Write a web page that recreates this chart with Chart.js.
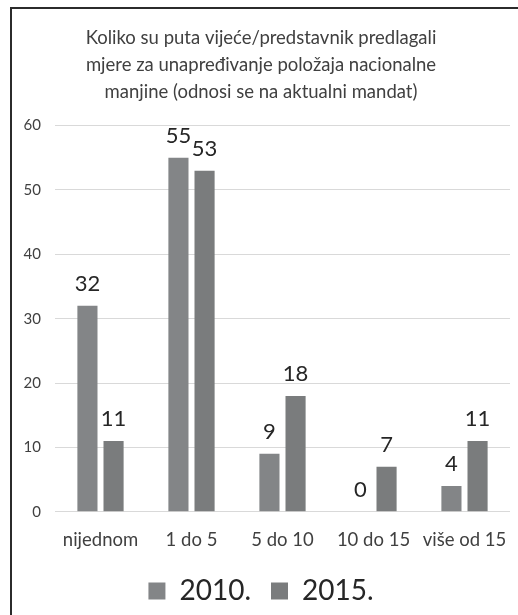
<!DOCTYPE html>
<html>
<head>
<meta charset="utf-8">
<script src="https://cdn.jsdelivr.net/npm/chart.js@4/dist/chart.umd.min.js"></script>
<style>
  body { margin: 0; background: #fff; }
  #wrap { position: relative; width: 518px; height: 615px; }
  #okvir { position: absolute; left: 10px; top: 7px; right: 0; bottom: 0;
           border-left: 2px solid #2b2b2b; border-top: 2px solid #2b2b2b; pointer-events: none; }
</style>
</head>
<body>
<div id="wrap">
  <canvas id="myChart" width="518" height="615"></canvas>
  <div id="okvir"></div>
</div>
<script>
// podaci s grafa
const naslov = [
  "Koliko su puta vijeće/predstavnik predlagali",
  "mjere za unapređivanje položaja nacionalne",
  "manjine (odnosi se na aktualni mandat)"
]
const kategorije = ["nijednom", "1 do 5", "5 do 10", "10 do 15", "više od 15"]
const god2010 = [32, 55, 9, 0, 4]
const god2015 = [11, 53, 18, 7, 11]
const yTicks = [0, 10, 20, 30, 40, 50, 60]

const font = "Lato"

// brojevi iznad stupaca
const oznake = {
  id: "oznake",
  afterDatasetsDraw(chart) {
    const ctx = chart.ctx
    ctx.save()
    ctx.font = "22px " + font
    ctx.fillStyle = "#262626"
    ctx.textAlign = "center"
    ctx.textBaseline = "alphabetic"
    chart.data.datasets.forEach(function (ds, i) {
      chart.getDatasetMeta(i).data.forEach(function (bar, j) {
        ctx.fillText(ds.data[j], bar.x, bar.y - 15)
      })
    })
    ctx.restore()
  }
}

const graf = new Chart("myChart", {
  type: "bar",
  data: {
    labels: kategorije,
    datasets: [{
        label: "2010.",
        backgroundColor: "#838587",
        data: god2010,
        categoryPercentage: 0.574,
        barPercentage: 0.77
      },{
        label: "2015.",
        backgroundColor: "#7a7c7d",
        data: god2015,
        categoryPercentage: 0.574,
        barPercentage: 0.77
      }
    ]
  },
  plugins: [oznake],
  options: {
    responsive: false,
    animation: false,
    layout: { padding: { left: 12, right: 8, top: 24, bottom: 0 } },
    plugins: {
      tooltip: { enabled: false },
      title: {
        display: true,
        text: naslov,
        color: "#404040",
        font: { family: font, size: 18.5, weight: "normal", lineHeight: 1.47 },
        padding: { top: 0, bottom: 20 }
      },
      legend: {
        position: "bottom",
        labels: {
          color: "#262626",
          font: { family: font, size: 28 },
          boxWidth: 17,
          boxHeight: 17,
          padding: 20
        }
      }
    },
    scales: {
      x: {
        grid: { display: false },
        border: { display: false },
        afterFit(s) { s.height -= 3 },
        ticks: { color: "#404040", font: { family: font, size: 18.5 }, padding: 9,
                 maxRotation: 0, minRotation: 0, autoSkip: false }
      },
      y: {
        min: 0,
        max: 60,
        afterBuildTicks(s) { s.ticks = yTicks.map(v => ({ value: v })) },
        afterFit(s) { s.width = 43 },
        grid: { color: "#d9d9d9", drawTicks: false },
        border: { display: false },
        ticks: { color: "#404040", font: { family: font, size: 15 }, padding: 14 }
      }
    }
  }
})
</script>
</body>
</html>
